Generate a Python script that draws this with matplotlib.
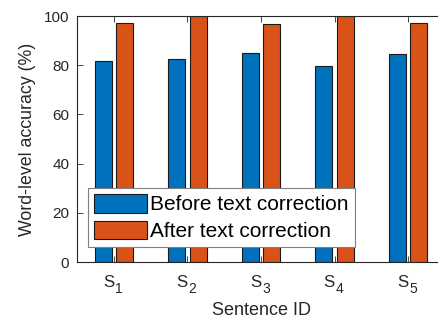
import matplotlib
matplotlib.use("Agg")
import matplotlib.pyplot as plt
import numpy as np

plt.rcParams['font.family'] = ['Liberation Sans', 'DejaVu Sans']

cat_base = 'S'
cat_sub = ['1', '2', '3', '4', '5']
before = [81.9, 82.7, 85.1, 79.7, 84.4]
after = [97.3, 100.0, 96.9, 100.0, 97.3]
series_names = ['Before text correction', 'After text correction']
yticks = [0, 20, 40, 60, 80, 100]

txt = '#262626'
fig = plt.figure(figsize=(4.38, 3.2), dpi=100)
ax = fig.add_axes([77/438, 58/320, 368/438, 246/320])

x = np.arange(1, len(cat_sub) + 1)
w = 0.23
off = 0.145
ax.bar(x - off, before, w, color='#0072BD', edgecolor='#1a1a1a', linewidth=0.8, label=series_names[0])
ax.bar(x + off, after, w, color='#D95319', edgecolor='#1a1a1a', linewidth=0.8, label=series_names[1])

ax.set_xlim(0.5, 5.5)
ax.set_ylim(0, 100)
ax.set_xticks(x)
ax.set_xticklabels([''] * len(x))
for xi, sub in zip(x, cat_sub):
    ax.annotate(cat_base, xy=(xi, 0), xycoords=('data', 'axes fraction'),
                xytext=(0.2, -17.8), textcoords='offset points',
                ha='right', va='baseline', fontsize=12.2, color=txt, annotation_clip=False)
    ax.annotate(sub, xy=(xi, 0), xycoords=('data', 'axes fraction'),
                xytext=(0.7, -22.5), textcoords='offset points',
                ha='left', va='baseline', fontsize=10, color=txt, annotation_clip=False)
ax.set_yticks(yticks)
ax.tick_params(axis='y', labelsize=11, colors=txt, pad=5.5)
ax.tick_params(axis='x', colors=txt)
ax.tick_params(direction='in', length=4, width=0.6, top=True, right=True)
for s in ax.spines.values():
    s.set_color(txt)
    s.set_linewidth(0.8)

ax.set_ylabel('Word-level accuracy (%)', fontsize=12.8, color=txt, labelpad=5.5)
ax.set_xlabel('Sentence ID', fontsize=13, color=txt, labelpad=25.5)

leg = ax.legend(loc='lower left', bbox_to_anchor=(0.0307, 0.061), borderaxespad=0,
                fontsize=15, handlelength=2.55, handleheight=1.0, handletextpad=0.15,
                labelspacing=0.3, borderpad=0.28, fancybox=False, framealpha=1)
leg.get_frame().set_edgecolor('#808080')
leg.get_frame().set_linewidth(0.8)

fig.savefig('out.png', dpi=100)
